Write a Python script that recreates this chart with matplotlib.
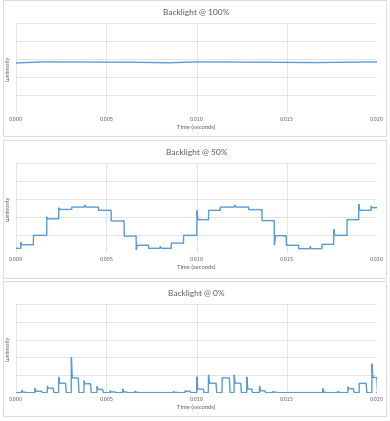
import matplotlib
matplotlib.use("Agg")
import matplotlib.pyplot as plt
from matplotlib.patches import Rectangle
import numpy as np

plt.rcParams['font.family'] = ['Lato', 'DejaVu Sans']

# ---------------- data ----------------
titles = ["Backlight @ 100%", "Backlight @ 50%", "Backlight @ 0%"]
x_ticks = [0.000, 0.005, 0.010, 0.015, 0.020]
x_tick_labels = ["0.000", "0.005", "0.010", "0.015", "0.020"]
y_grid = [0, 1, 2, 3, 4, 5]

# 100% : nearly flat line
t100 = [0.0, 0.0015, 0.004, 0.0065, 0.0085, 0.0100, 0.0120, 0.0140, 0.0165, 0.0200]
y100 = [2.78, 2.84, 2.83, 2.82, 2.79, 2.84, 2.83, 2.82, 2.80, 2.84]

# 50% : stepped sine-like waveform (step start times and levels)
t50_steps = [0.0, 0.000259, 0.000961, 0.0017, 0.002366, 0.003087, 0.004566,
             0.005268, 0.005989, 0.006654, 0.007338, 0.008595, 0.009279,
             0.010018, 0.010665, 0.011312, 0.012884, 0.013623, 0.014307,
             0.014972, 0.015656, 0.016950, 0.017597, 0.018336, 0.018983,
             0.019667]
y50_steps = [0.26, 0.46, 0.98, 1.90, 2.42, 2.55, 2.37, 1.78, 0.94, 0.43,
             0.26, 0.55, 0.98, 1.85, 2.37, 2.55, 2.41, 1.80, 0.96, 0.43,
             0.24, 0.48, 0.98, 1.85, 2.37, 2.52]
# transient spike at each step edge (None = no spike)
y50_spikes = [None, 0.58, None, 2.0, 2.5, None, None, None, None, 0.19,
              None, None, None, 2.35, None, None, None, None, 0.46, None,
              None, None, 1.3, None, 2.69, 2.6]
# small bumps inside plateaus
t50_bumps = [0.003826, 0.008000, 0.012125, 0.016303]
y50_bumps = [2.66, 0.36, 2.66, 0.36]

# 0% : short pulses over a near-zero baseline
p0_start = [0.000314, 0.001054, 0.001738, 0.002366, 0.003068, 0.003771,
            0.004492, 0.005213, 0.005915, 0.006599, 0.008724, 0.009371,
            0.010018, 0.010665, 0.011423, 0.012089, 0.012791, 0.013493,
            0.014233, 0.017005, 0.017819, 0.018392, 0.019020, 0.019723]
p0_end = [0.000499, 0.001423, 0.002070, 0.002754, 0.003457, 0.004140,
          0.004806, 0.005490, 0.006137, 0.006784, 0.008909, 0.009649,
          0.010388, 0.011090, 0.011830, 0.012458, 0.013068, 0.013808,
          0.014455, 0.017135, 0.017967, 0.018706, 0.019408, 0.020000]
p0_peak = [0.15, 0.26, 0.38, 0.88, 1.98, 0.68, 0.36, 0.12, 0.22, 0.10,
           0.08, 0.12, 0.90, 1.00, 0.85, 1.00, 0.88, 0.38, 0.08, 0.24,
           0.08, 0.33, 0.54, 1.63]
p0_level = [0.05, 0.10, 0.27, 0.55, 0.85, 0.52, 0.20, 0.06, 0.06, 0.04,
            0.04, 0.10, 0.22, 0.55, 0.85, 0.55, 0.22, 0.12, 0.05, 0.05,
            0.04, 0.24, 0.54, 0.87]
base0 = 0.02

# ---------------- build polylines ----------------
def build_50():
    xs, ys = [], []
    edges = t50_steps + [0.020]
    for i, lvl in enumerate(y50_steps):
        t0, t1 = edges[i], edges[i + 1]
        if i > 0:
            xs.append(t0); ys.append(y50_steps[i - 1])
        sp = y50_spikes[i]
        if sp is not None:
            xs.append(t0 + 0.00001); ys.append(sp)
            xs.append(t0 + 0.00006); ys.append(lvl)
        else:
            xs.append(t0 + 0.00001); ys.append(lvl)
        for bt, by in zip(t50_bumps, y50_bumps):
            if t0 < bt < t1:
                xs += [bt - 0.00005, bt, bt + 0.00005]
                ys += [lvl, by, lvl]
        xs.append(t1 - 0.00001); ys.append(lvl)
    return xs, ys

def build_0():
    xs, ys = [0.0], [base0]
    for s, e, pk, lv in zip(p0_start, p0_end, p0_peak, p0_level):
        xs += [s - 0.00001, s, s + 0.00005]
        ys += [base0, pk, lv]
        if pk == lv:
            xs += [e - 0.00004]
            ys += [lv]
        xs += [e - 0.00001, e + 0.00003]
        ys += [lv, base0]
    xs.append(0.020); ys.append(base0)
    return xs, ys

x50, yy50 = build_50()
x0, yy0 = build_0()
series = [(t100, y100), (x50, yy50), (x0, yy0)]

# ---------------- figure ----------------
W, H = 390, 421
fig = plt.figure(figsize=(W / 100, H / 100), dpi=100)

line_color = "#5B9BD5"
grid_color = "#DDDDDD"
text_color = "#595959"

panel_boxes = [(3, 0, 383, 136), (3, 140, 383, 138), (3, 281, 383, 135)]
plot_areas = [(16, 23, 377, 113), (16, 163, 377, 253), (16, 304, 377, 393)]

for (bx, by, bw, bh) in panel_boxes:
    fig.patches.append(Rectangle((bx / W, 1 - (by + bh) / H), bw / W, bh / H,
                                 transform=fig.transFigure, fill=False,
                                 edgecolor=grid_color, linewidth=0.8))

for k, ((x1, y1, x2, y2), title, (xs, ys)) in enumerate(zip(plot_areas, titles, series)):
    ax = fig.add_axes([x1 / W, 1 - y2 / H, (x2 - x1) / W, (y2 - y1) / H])
    ax.plot(xs, ys, color=line_color, linewidth=1.0)
    ax.set_xlim(0, 0.020)
    ax.set_ylim(0, 5)
    ax.set_xticks(x_ticks)
    ax.set_xticklabels(x_tick_labels, fontsize=3.5, color=text_color,
                       family=['DejaVu Sans'])
    ax.set_yticks(y_grid)
    ax.set_yticklabels([])
    ax.tick_params(axis='both', length=0, pad=3)
    ax.grid(True, color=grid_color, linewidth=0.55)
    ax.set_axisbelow(True)
    for s in ax.spines.values():
        s.set_visible(False)
    ax.set_xlabel("Time (seconds)", fontsize=4.2, color=text_color, labelpad=2)
    ax.set_ylabel("Luminosity", fontsize=3.8, color=text_color, labelpad=1)
    ax.set_title(title, fontsize=6.0, color=text_color, pad=6)

fig.savefig("out.png", dpi=100)
